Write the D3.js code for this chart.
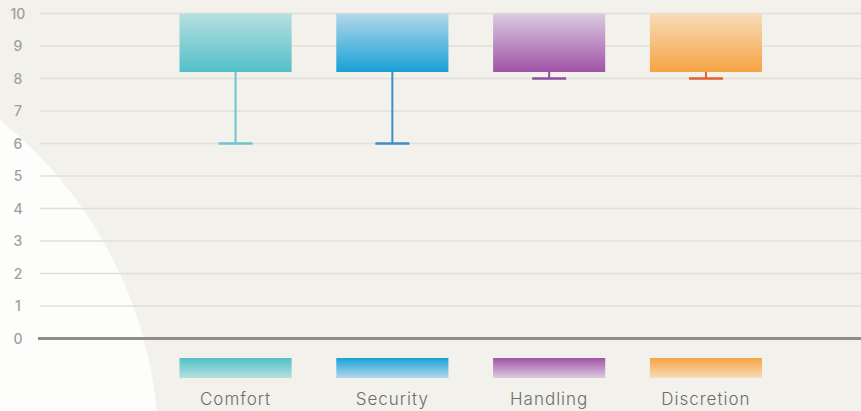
<!DOCTYPE html>
<html>
<head>
<meta charset="utf-8">
<script src="https://cdn.jsdelivr.net/npm/d3@7"></script>
<style>
  html, body { margin: 0; padding: 0; background: #f2f1ec; overflow: hidden; }
  svg { display: block; }
</style>
</head>
<body>
<div id="chart"></div>
<script>
// chart values
const categories = ["Comfort", "Security", "Handling", "Discretion"];
const lowValues = [6, 6, 8, 8];        // whisker end
const boxLow = [8.2, 8.2, 8.2, 8.2];   // bottom of box
const boxHigh = [10, 10, 10, 10];      // top of box
const yTicks = [0, 1, 2, 3, 4, 5, 6, 7, 8, 9, 10];

const colors = {
  Comfort:    { light: "#b6dfe0", dark: "#52c0c8", line: "#6cc6cd" },
  Security:   { light: "#b3d8ea", dark: "#18a0d6", line: "#3b8fca" },
  Handling:   { light: "#dccbe2", dark: "#a053a6", line: "#8f4f9f" },
  Discretion: { light: "#f8dcb8", dark: "#f5a343", line: "#e2612e" }
};

const width = 861, height = 411;

const svg = d3.select("#chart").append("svg")
  .attr("width", width)
  .attr("height", height);

// background with the white round shape at the lower left
svg.append("rect").attr("width", width).attr("height", height).attr("fill", "#f2f1ec");
svg.append("circle").attr("cx", -267).attr("cy", 452).attr("r", 426).attr("fill", "#fdfdfc");

const y = d3.scaleLinear().domain([0, 10]).range([338.5, 13.5]);
const x = d3.scaleBand()
  .domain(categories)
  .range([179.5, 762])
  .paddingInner(0.285)
  .paddingOuter(0);

// gradients: boxes light at top, legend swatches dark at top
const defs = svg.append("defs");
categories.forEach((c, i) => {
  const g = defs.append("linearGradient").attr("id", "box" + i)
    .attr("x1", 0).attr("y1", 0).attr("x2", 0).attr("y2", 1);
  g.append("stop").attr("offset", "0%").attr("stop-color", colors[c].light);
  g.append("stop").attr("offset", "100%").attr("stop-color", colors[c].dark);
  const l = defs.append("linearGradient").attr("id", "leg" + i)
    .attr("x1", 0).attr("y1", 0).attr("x2", 0).attr("y2", 1);
  l.append("stop").attr("offset", "0%").attr("stop-color", colors[c].dark);
  l.append("stop").attr("offset", "100%").attr("stop-color", colors[c].light);
});

// grid lines
svg.append("g")
  .selectAll("line")
  .data(yTicks.filter(d => d > 0))
  .join("line")
  .attr("x1", 40).attr("x2", width)
  .attr("y1", d => y(d)).attr("y2", d => y(d))
  .attr("stroke", "#e1dfd8")
  .attr("stroke-width", 1.5);

// zero line
svg.append("line")
  .attr("x1", 38).attr("x2", width)
  .attr("y1", y(0)).attr("y2", y(0))
  .attr("stroke", "#8e8d8b")
  .attr("stroke-width", 3);

// y tick labels
svg.append("g")
  .selectAll("text")
  .data(yTicks)
  .join("text")
  .attr("x", 18)
  .attr("y", d => y(d))
  .attr("dy", "0.36em")
  .attr("text-anchor", "middle")
  .style("font-family", "Inter, sans-serif")
  .style("font-size", "14px")
  .style("font-weight", 500)
  .style("fill", "#a39e99")
  .text(d => d);

const data = categories.map((c, i) => ({ name: c, i, low: lowValues[i], q1: boxLow[i], q3: boxHigh[i] }));

const boxes = svg.append("g")
  .selectAll("g")
  .data(data)
  .join("g");

// whisker
boxes.append("line")
  .attr("x1", d => x(d.name) + x.bandwidth() / 2)
  .attr("x2", d => x(d.name) + x.bandwidth() / 2)
  .attr("y1", d => y(d.q1))
  .attr("y2", d => y(d.low))
  .attr("stroke", d => colors[d.name].line)
  .attr("stroke-width", 2);

// whisker cap
boxes.append("line")
  .attr("x1", d => x(d.name) + x.bandwidth() / 2 - 17)
  .attr("x2", d => x(d.name) + x.bandwidth() / 2 + 17)
  .attr("y1", d => y(d.low))
  .attr("y2", d => y(d.low))
  .attr("stroke", d => colors[d.name].line)
  .attr("stroke-width", 2.5);

// box
boxes.append("rect")
  .attr("x", d => x(d.name))
  .attr("y", d => y(d.q3))
  .attr("width", x.bandwidth())
  .attr("height", d => y(d.q1) - y(d.q3))
  .attr("fill", d => `url(#box${d.i})`);

// legend swatches + labels
const legend = svg.append("g")
  .selectAll("g")
  .data(data)
  .join("g");

legend.append("rect")
  .attr("x", d => x(d.name))
  .attr("y", 358)
  .attr("width", x.bandwidth())
  .attr("height", 20)
  .attr("fill", d => `url(#leg${d.i})`);

legend.append("text")
  .attr("x", d => x(d.name) + x.bandwidth() / 2)
  .attr("y", 405)
  .attr("text-anchor", "middle")
  .style("font-family", "Inter, sans-serif")
  .style("font-size", "17px")
  .style("font-weight", 300)
  .style("letter-spacing", "1px")
  .style("fill", "#6e6d6b")
  .text(d => d.name);
</script>
</body>
</html>
